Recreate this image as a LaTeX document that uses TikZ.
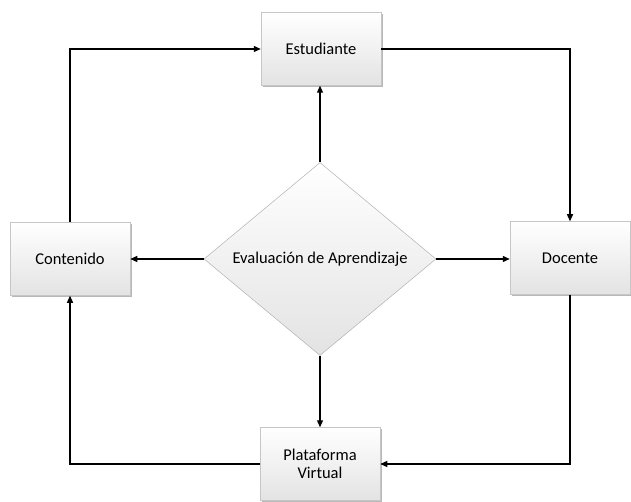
\documentclass[tikz,border=0pt]{standalone}
\usepackage{fontspec}
\setmainfont{Carlito}
\usetikzlibrary{shapes.geometric,arrows.meta,shadows}
\begin{document}
\begin{tikzpicture}[x=1pt,y=-1pt,
  boxst/.style={draw=gray!45,line width=0.5pt,top color=white,bottom color=gray!22,
    drop shadow={shadow xshift=1.5pt,shadow yshift=-1.5pt,fill=gray!70,opacity=0.8},
    minimum width=120pt,minimum height=73pt,align=center,font=\fontsize{16.5}{18}\selectfont,inner sep=2pt},
  diamst/.style={diamond,draw=gray!60,line width=0.5pt,top color=white,bottom color=gray!22,
    minimum width=232pt,minimum height=193pt,aspect=1.2,inner sep=0pt},
  arr/.style={line width=1.3pt,-{Triangle[length=7pt,width=6pt]}}]
\useasboundingbox (0,0) rectangle (631,502);
\node[boxst] (est) at (321,49) {Estudiante};
\node[boxst] (con) at (70,259) {Contenido};
\node[boxst] (doc) at (570,258) {Docente};
\node[boxst] (pla) at (320,464) {Plataforma\\Virtual};
\node[diamst] (eva) at (320,259) {};
\node (evt) at (eva.center) {\fontsize{16.5}{18}\selectfont Evaluación de Aprendizaje};
\draw[arr] (eva.north) -- (eva.north |- est.south);
\draw[arr] (eva.west) -- (eva.west -| con.east);
\draw[arr] (eva.east) -- (eva.east -| doc.west);
\draw[arr] (eva.south) -- (eva.south |- pla.north);
\draw[arr] (est.east) -| (doc.north);
\draw[arr] (doc.south) |- (pla.east);
\draw[arr] (pla.west) -| (con.south);
\draw[arr] (con.north) |- (est.west);
\end{tikzpicture}
\end{document}
